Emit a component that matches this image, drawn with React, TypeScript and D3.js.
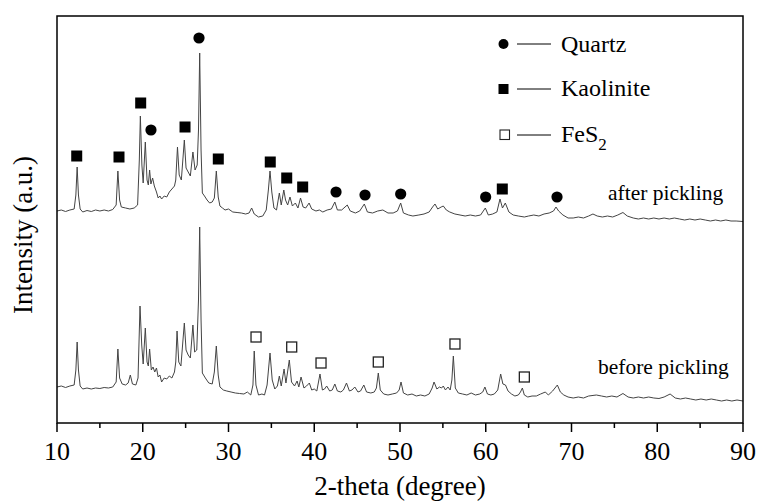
import React from 'react'
import * as d3 from 'd3'

// XRD patterns: [2-theta, intensity (a.u.)]
const afterPickling: [number, number][] = [
  [10.0, 212], [10.5, 213], [11.0, 211.5], [11.5, 213], [12.0, 214], [12.2, 228], [12.35, 256], [12.5, 228],
  [12.7, 214], [13.0, 211], [13.5, 212.5], [14.0, 211.5], [14.5, 213], [15.0, 212], [15.5, 213], [16.0, 212],
  [16.5, 213.5], [16.9, 218], [17.1, 252], [17.3, 223], [17.5, 216], [18.0, 215], [18.5, 214], [19.0, 215],
  [19.4, 218], [19.6, 263], [19.72, 307], [19.9, 258], [20.05, 240], [20.3, 281], [20.5, 243], [20.65, 238],
  [20.8, 253], [20.95, 239], [21.15, 245], [21.35, 237], [21.6, 231], [21.8, 225], [22.0, 227], [22.2, 224],
  [22.5, 227], [22.8, 226], [23.1, 231], [23.4, 234], [23.7, 237], [23.85, 243], [24.05, 276], [24.25, 248],
  [24.5, 243], [24.85, 283], [25.05, 255], [25.3, 251], [25.55, 247], [25.85, 271], [26.1, 253], [26.35, 258],
  [26.5, 293], [26.64, 370], [26.8, 273], [26.95, 230], [27.2, 227], [27.5, 223], [27.8, 220], [28.1, 221],
  [28.35, 225], [28.58, 252], [28.8, 226], [29.0, 217], [29.3, 215], [29.6, 213], [30.0, 214], [30.5, 211],
  [31.0, 210.5], [31.5, 210], [32.0, 209], [32.4, 210], [32.7, 215], [33.0, 209], [33.5, 206], [34.0, 207],
  [34.4, 213], [34.65, 233], [34.84, 252], [35.05, 231], [35.3, 215], [35.6, 213], [35.93, 230], [36.15, 218],
  [36.45, 233], [36.65, 223], [36.9, 218], [37.17, 226], [37.45, 217], [37.8, 220], [38.1, 215], [38.4, 225],
  [38.7, 216], [39.0, 215], [39.4, 220], [39.7, 214], [40.2, 212], [40.6, 213], [41.0, 211], [41.5, 213],
  [42.0, 214], [42.4, 221], [42.7, 213], [43.2, 213], [43.85, 218], [44.2, 212], [44.8, 210], [45.3, 212],
  [45.84, 219], [46.2, 211], [46.8, 210], [47.4, 212], [48.0, 213], [48.6, 210], [49.2, 210], [49.7, 212],
  [50.08, 220], [50.4, 210], [51.0, 208], [51.5, 207], [52.2, 208], [52.8, 209], [53.4, 211], [53.8, 216],
  [54.08, 219], [54.4, 214], [54.8, 216], [55.05, 217], [55.4, 213], [55.8, 211], [56.4, 209], [57.0, 208],
  [57.6, 207], [58.2, 208], [58.8, 207], [59.4, 208], [59.95, 215], [60.3, 208], [60.8, 209], [61.3, 211],
  [61.66, 224], [61.95, 215], [62.28, 220], [62.7, 211], [63.2, 208], [63.8, 207], [64.5, 206], [65.0, 207],
  [65.6, 208], [66.2, 207], [66.8, 209], [67.4, 210], [67.9, 212], [68.19, 216], [68.5, 212], [69.0, 208],
  [69.6, 205], [70.2, 205], [70.8, 206], [71.4, 205], [72.0, 207], [72.5, 209], [73.0, 207], [73.6, 206],
  [74.2, 207], [74.8, 206], [75.4, 208], [76.0, 210.5], [76.5, 207], [77.2, 205], [77.8, 204], [78.4, 205],
  [79.0, 204], [79.6, 205], [80.2, 204], [80.8, 205], [81.4, 204], [82.0, 205], [82.6, 204], [83.2, 203],
  [83.8, 204], [84.4, 203], [85.0, 204], [85.6, 203], [86.2, 202], [86.8, 203], [87.4, 202], [88.0, 203],
  [88.6, 202], [89.2, 202], [90.0, 201.5],
]

const beforePickling: [number, number][] = [
  [10.0, 36], [10.5, 37], [11.0, 35.5], [11.5, 37], [12.0, 38], [12.2, 53], [12.35, 81], [12.5, 53],
  [12.7, 37], [13.0, 34], [13.5, 35], [14.0, 34], [14.5, 35], [15.0, 34.5], [15.5, 35.5], [16.0, 35],
  [16.5, 36], [16.9, 41], [17.1, 74], [17.3, 45], [17.6, 39], [18.0, 38], [18.3, 40], [18.55, 48],
  [18.8, 39], [19.2, 38], [19.45, 45], [19.68, 117], [19.88, 78], [20.05, 59], [20.3, 95], [20.5, 61],
  [20.65, 57], [20.8, 74], [21.0, 53], [21.2, 56], [21.4, 51], [21.6, 55], [21.8, 46], [22.0, 48],
  [22.2, 41], [22.5, 45], [22.8, 44], [23.1, 47], [23.4, 45], [23.7, 51], [23.85, 61], [24.0, 92],
  [24.2, 61], [24.45, 57], [24.85, 100], [25.05, 73], [25.3, 68], [25.55, 65], [25.85, 98], [26.05, 71],
  [26.3, 73], [26.5, 123], [26.64, 196], [26.8, 103], [26.95, 50], [27.3, 45], [27.7, 40], [28.1, 39],
  [28.35, 51], [28.58, 77], [28.8, 48], [29.0, 36], [29.4, 33], [29.8, 32], [30.3, 31], [30.8, 30],
  [31.3, 29.5], [31.8, 29], [32.2, 31], [32.6, 28], [32.85, 38], [33.0, 72], [33.2, 38], [33.5, 28],
  [33.9, 29], [34.2, 28], [34.5, 38], [34.84, 70], [35.1, 43], [35.4, 34], [35.7, 37], [35.93, 47],
  [36.15, 37], [36.48, 54], [36.7, 40], [37.09, 63], [37.35, 41], [37.7, 37], [38.0, 42], [38.2, 36],
  [38.46, 46], [38.8, 35], [39.1, 37], [39.43, 40], [39.7, 33], [40.0, 34], [40.3, 32], [40.67, 49],
  [40.95, 33], [41.2, 34], [41.45, 37], [41.8, 32], [42.1, 33], [42.4, 39], [42.7, 32], [43.1, 31],
  [43.4, 33], [43.76, 40], [44.1, 32], [44.4, 33], [44.73, 36], [45.1, 31], [45.4, 32], [45.78, 38],
  [46.1, 31], [46.6, 30], [47.0, 31], [47.25, 35], [47.47, 50], [47.7, 33], [48.1, 29], [48.6, 28],
  [49.1, 29], [49.6, 30], [49.9, 33], [50.12, 41], [50.4, 30], [50.9, 28], [51.4, 29], [51.9, 27],
  [52.4, 28], [52.9, 27], [53.4, 29], [53.75, 35], [53.97, 41], [54.3, 34], [54.6, 36], [54.85, 35],
  [55.05, 37], [55.3, 33], [55.6, 36], [55.85, 33], [56.05, 43], [56.22, 67], [56.45, 35], [56.8, 30],
  [57.3, 29], [57.8, 28], [58.3, 30], [58.8, 28], [59.3, 29], [59.65, 31], [59.9, 36], [60.2, 29],
  [60.6, 28], [61.0, 29], [61.4, 33], [61.74, 49], [62.0, 39], [62.3, 38], [62.6, 32], [63.0, 29],
  [63.4, 27], [63.8, 28], [64.05, 31], [64.27, 35], [64.5, 28], [64.9, 26], [65.4, 27], [65.9, 27],
  [66.4, 29], [66.95, 31], [67.3, 28], [67.8, 32], [68.35, 38], [68.7, 31], [69.1, 28], [69.6, 26],
  [70.2, 25], [70.8, 26], [71.4, 25], [72.0, 27], [72.9, 28], [73.5, 27], [74.1, 26], [74.7, 27],
  [75.3, 26], [76.0, 29.5], [76.6, 26], [77.2, 25], [77.8, 26], [78.4, 25], [79.0, 26], [79.6, 25],
  [80.2, 24.5], [80.8, 26], [81.5, 29], [82.1, 25], [82.7, 24], [83.3, 25], [83.9, 24], [84.5, 23],
  [85.1, 24], [85.7, 23], [86.3, 24], [86.9, 23], [87.5, 22], [88.1, 23], [88.7, 22], [89.3, 23],
  [90.0, 22],
]

// phase markers: [2-theta, intensity where the symbol sits]
const kaoliniteMarks: [number, number][] = [
  [12.3, 267], [17.23, 266], [19.76, 320], [24.93, 296], [28.81, 264], [34.87, 261], [36.79, 245], [38.65, 236], [61.93, 234],
]
const quartzMarks: [number, number][] = [
  [26.56, 385], [20.96, 293], [42.54, 231], [45.92, 228], [50.08, 229], [59.99, 226], [68.31, 226],
]
const fes2Marks: [number, number][] = [
  [33.21, 86], [37.37, 76], [40.79, 60], [47.47, 61], [56.41, 79], [64.5, 46],
]

const xTicks = [10, 20, 30, 40, 50, 60, 70, 80, 90]
const xMinorTicks = [15, 25, 35, 45, 55, 65, 75, 85]

const W = 758
const H = 502
const margin = { top: 16, right: 15, bottom: 79, left: 57 }
const serif = { fontFamily: "'Liberation Serif', 'Times New Roman', Times, serif" }

export default function App() {
  const x = d3.scaleLinear().domain([10, 90]).range([margin.left, W - margin.right])
  const y = d3.scaleLinear().domain([0, 407]).range([H - margin.bottom, margin.top])
  const line = d3.line<[number, number]>().x(d => x(d[0])).y(d => y(d[1]))
  const bottom = H - margin.bottom
  const lineColor = '#444'

  return (
    <svg width={W} height={H} style={{ position: 'absolute', left: 0, top: 0, background: '#fff' }}>
      <path d={line(afterPickling) || ''} fill="none" stroke={lineColor} strokeWidth={1} />
      <path d={line(beforePickling) || ''} fill="none" stroke={lineColor} strokeWidth={1} />

      {kaoliniteMarks.map((d, i) => (
        <rect key={'k' + i} x={x(d[0]) - 5.5} y={y(d[1]) - 5.5} width={11} height={11} fill="#000" />
      ))}
      {quartzMarks.map((d, i) => (
        <circle key={'q' + i} cx={x(d[0])} cy={y(d[1])} r={5.6} fill="#000" />
      ))}
      {fes2Marks.map((d, i) => (
        <rect key={'f' + i} x={x(d[0]) - 5} y={y(d[1]) - 5} width={10} height={10} fill="#fff" stroke="#222" strokeWidth={1.3} />
      ))}

      {/* frame */}
      <rect x={margin.left} y={margin.top} width={W - margin.left - margin.right} height={bottom - margin.top}
        fill="none" stroke="#000" strokeWidth={1.5} />

      {xTicks.map(t => (
        <g key={t}>
          <line x1={x(t)} x2={x(t)} y1={bottom} y2={bottom + 9} stroke="#000" strokeWidth={1.5} />
          <text x={x(t)} y={460} fontSize={26} textAnchor="middle" style={serif}>{t}</text>
        </g>
      ))}
      {xMinorTicks.map(t => (
        <line key={t} x1={x(t)} x2={x(t)} y1={bottom} y2={bottom + 5} stroke="#000" strokeWidth={1.5} />
      ))}

      <text x={(margin.left + W - margin.right) / 2} y={495} fontSize={27} textAnchor="middle" style={serif}>2-theta (degree)</text>
      <text transform="translate(32,235) rotate(-90)" fontSize={27} textAnchor="middle" style={serif}>Intensity (a.u.)</text>

      {/* legend */}
      <circle cx={503.5} cy={44} r={5} fill="#000" />
      <line x1={517} x2={551} y1={44} y2={44} stroke="#000" strokeWidth={1} />
      <text x={561} y={51.5} fontSize={24} style={serif}>Quartz</text>
      <rect x={498.5} y={84} width={10} height={10} fill="#000" />
      <line x1={517} x2={551} y1={89} y2={89} stroke="#000" strokeWidth={1} />
      <text x={561} y={96} fontSize={24} style={serif}>Kaolinite</text>
      <rect x={500} y={130} width={9.5} height={9.5} fill="#fff" stroke="#222" strokeWidth={1.1} />
      <line x1={517} x2={551} y1={135} y2={135} stroke="#000" strokeWidth={1} />
      <text x={561} y={142} fontSize={24} style={serif}>FeS<tspan fontSize={17} dy={8}>2</tspan></text>

      <text x={608} y={199.5} fontSize={21.5} style={serif}>after pickling</text>
      <text x={598} y={373.5} fontSize={21.5} style={serif}>before pickling</text>
    </svg>
  )
}
